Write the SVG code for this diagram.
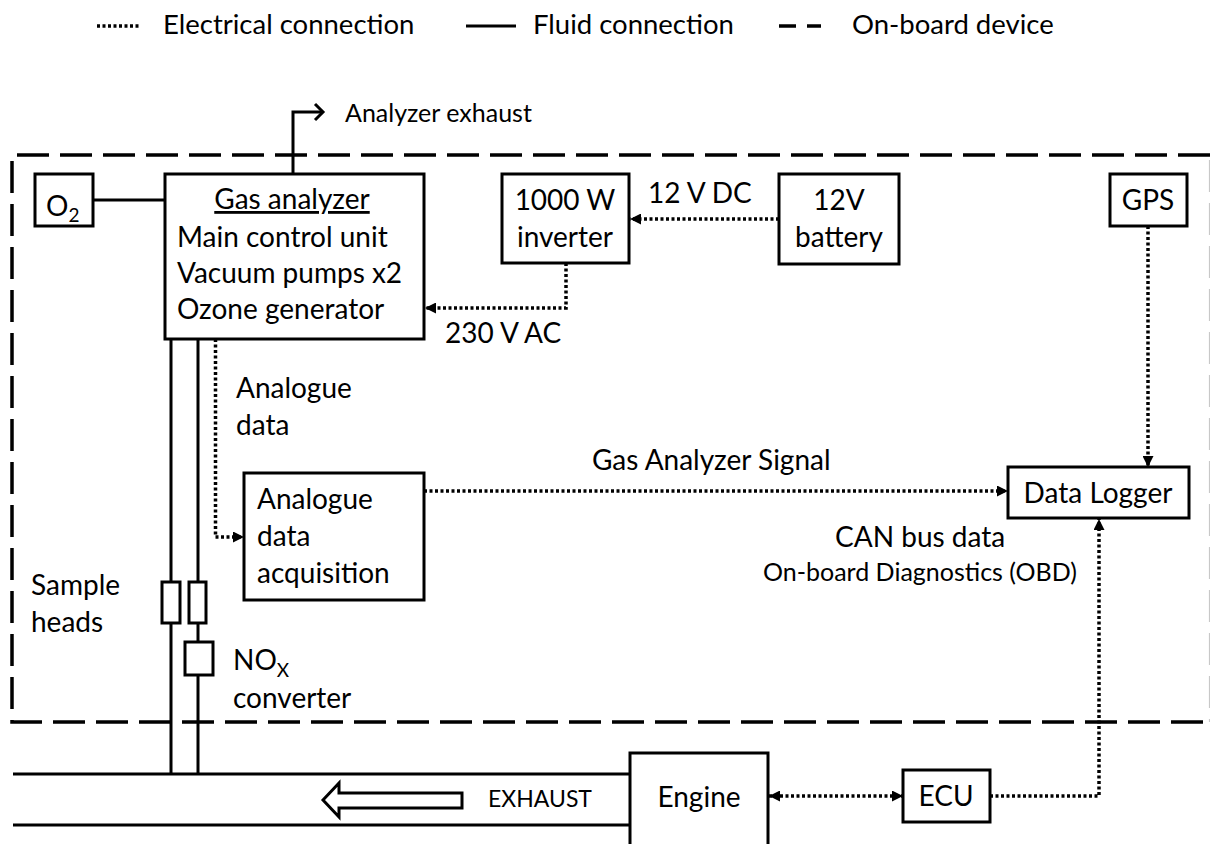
<svg xmlns="http://www.w3.org/2000/svg" width="1210" height="844" viewBox="0 0 1210 844">
<style>
text{font-family:Lato,"Open Sans","Liberation Sans",sans-serif;fill:#000}
.t{font-size:28px}
.lg{font-size:27.5px}
.s{font-size:25px}
.x{font-size:23px}
.box{fill:#fff;stroke:#000;stroke-width:3}
.fluid{fill:none;stroke:#000;stroke-width:3}
.elec{fill:none;stroke:#000;stroke-width:3.5;stroke-dasharray:3 2.5}
.dash{fill:none;stroke:#000;stroke-width:3.5;stroke-dasharray:32 11}
.mid{text-anchor:middle}
</style>
<defs>
<marker id="ah" markerUnits="userSpaceOnUse" markerWidth="11" markerHeight="11" refX="10" refY="5" orient="auto-start-reverse" viewBox="0 0 10 10">
<path d="M0,0 L10,5 L0,10 z" fill="#000"/>
</marker>
</defs>
<rect width="1210" height="844" fill="#fff"/>

<g id="legend">
<line x1="97" y1="26" x2="140" y2="26" class="elec"/>
<text x="163" y="34" class="lg">Electrical connection</text>
<line x1="466" y1="26" x2="516" y2="26" class="fluid"/>
<text x="533" y="34" class="lg">Fluid connection</text>
<line x1="779" y1="26" x2="796" y2="26" stroke="#000" stroke-width="3.5"/>
<line x1="807" y1="26" x2="821" y2="26" stroke="#000" stroke-width="3.5"/>
<text x="852" y="34" class="lg">On-board device</text>
</g>

<g id="onboard-boundary">
<path d="M1210,155 H12 V722 H1210" class="dash"/>
<path d="M1209.5,160 V722" fill="none" stroke="#c8c8c8" stroke-width="1.2" stroke-dasharray="32 11"/>
</g>

<g id="connectors">
<path d="M293,173 V112 H322" class="fluid"/>
<path d="M315,104 L323,112 L315,120" class="fluid"/>
<line x1="93" y1="200" x2="165" y2="200" class="fluid"/>
<line x1="171" y1="339" x2="171" y2="774" class="fluid"/>
<line x1="198" y1="339" x2="198" y2="774" class="fluid"/>
<line x1="13" y1="774" x2="630" y2="774" class="fluid"/>
<line x1="13" y1="825" x2="630" y2="825" class="fluid"/>
<path d="M779,219 H630" class="elec" marker-end="url(#ah)"/>
<path d="M566,263 V308 H425" class="elec" marker-end="url(#ah)"/>
<path d="M215.5,339 V537 H244" class="elec" marker-end="url(#ah)"/>
<path d="M424,491 H1008" class="elec" marker-end="url(#ah)"/>
<path d="M1148,226 V467" class="elec" marker-end="url(#ah)"/>
<path d="M990,796 H1099 V519" class="elec" marker-end="url(#ah)"/>
<path d="M769,796 H903" class="elec" marker-start="url(#ah)" marker-end="url(#ah)"/>
</g>

<g id="labels">
<text x="345" y="122" class="s">Analyzer exhaust</text>
<text x="648" y="203" class="t">12 V DC</text>
<text x="445" y="343" class="t">230 V AC</text>
<text x="236" y="398" class="t">Analogue</text>
<text x="236" y="435" class="t">data</text>
<text x="592" y="470" class="t">Gas Analyzer Signal</text>
<text x="835" y="547" class="t">CAN bus data</text>
<text x="763" y="581" class="s">On-board Diagnostics (OBD)</text>
<text x="31" y="595" class="t">Sample</text>
<text x="31" y="632" class="t">heads</text>
<text x="233" y="670" class="t">NO<tspan font-size="19" dy="7">X</tspan></text>
<text x="233" y="708" class="t">converter</text>
<text x="488" y="807" class="x">EXHAUST</text>
</g>

<g id="o2">
<rect x="35" y="174" width="58" height="52" class="box"/>
<text x="46" y="216" class="t">O<tspan font-size="19" dy="6">2</tspan></text>
</g>

<g id="gas-analyzer">
<rect x="165" y="174" width="259" height="165" class="box"/>
<text x="292" y="209" class="t mid" text-decoration="underline">Gas analyzer</text>
<text x="177" y="247" class="t">Main control unit</text>
<text x="177" y="283" class="t">Vacuum pumps x2</text>
<text x="177" y="319" class="t">Ozone generator</text>
</g>

<g id="inverter">
<rect x="502" y="174" width="127" height="89" class="box"/>
<text x="565" y="210" class="t mid">1000 W</text>
<text x="565" y="247" class="t mid">inverter</text>
</g>

<g id="battery">
<rect x="779" y="174" width="120" height="90" class="box"/>
<text x="839" y="210" class="t mid">12V</text>
<text x="839" y="247" class="t mid">battery</text>
</g>

<g id="gps">
<rect x="1110" y="174" width="77" height="52" class="box"/>
<text x="1148" y="210" class="t mid">GPS</text>
</g>

<g id="analogue-daq">
<rect x="244" y="473" width="180" height="127" class="box"/>
<text x="257" y="509" class="t">Analogue</text>
<text x="257" y="546" class="t">data</text>
<text x="257" y="583" class="t">acquisition</text>
</g>

<g id="data-logger">
<rect x="1008" y="467" width="181" height="51" class="box"/>
<text x="1098" y="503" class="t mid">Data Logger</text>
</g>

<g id="sample-heads">
<rect x="162" y="582" width="18" height="41" class="box"/>
<rect x="189" y="582" width="17" height="41" class="box"/>
</g>

<g id="nox-converter">
<rect x="185" y="642" width="28" height="33" class="box"/>
</g>

<g id="engine">
<rect x="630" y="753" width="138" height="100" class="box"/>
<text x="699" y="807" class="t mid">Engine</text>
</g>

<g id="ecu">
<rect x="903" y="770" width="87" height="52" class="box"/>
<text x="946" y="806" class="t mid">ECU</text>
</g>

<g id="exhaust-arrow">
<path d="M323,800 L339,783 V793 H462 V808 H339 V817 Z" fill="#fff" stroke="#000" stroke-width="3" stroke-linejoin="miter"/>
</g>
</svg>
